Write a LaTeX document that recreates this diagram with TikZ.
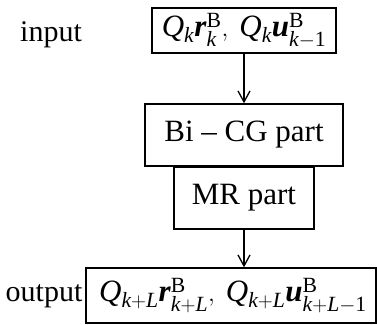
\documentclass[tikz,border=0pt]{standalone}
\usepackage{amsmath}
\usepackage{fontspec}
\setmainfont{Liberation Serif}
\usetikzlibrary{arrows.meta}
\tikzset{
  blk/.style={draw, line width=1.4pt, inner sep=0pt, anchor=center},
  lbl/.style={inner sep=0pt, anchor=center, font=\fontsize{30}{36}\selectfont},
  flow/.style={draw, line width=1.3pt, -{Straight Barb[length=11pt,width=12pt,line width=1.3pt]}},
}
% symbols set in the Times-like text face
\newcommand{\iQ}{\textit{Q}}
\newcommand{\ik}{\textit{k}}
\newcommand{\iL}{\textit{L}}
\newcommand{\vr}{\textbf{\textit{r}}}
\newcommand{\vu}{\textbf{\textit{u}}}
\newcommand{\sB}{\textrm{B}}
\begin{document}
\begin{tikzpicture}[x=1pt,y=1pt,font=\fontsize{31}{37}\selectfont]
  \useasboundingbox (0,0) rectangle (377,324);
  % stages of the cycle
  \node[blk, minimum width=184pt, minimum height=45pt] (in) at (244,293.5)
    {$\iQ_{\ik}\vr_{\ik}^{\sB},\;\iQ_{\ik}\vu_{\ik-\textrm{1}}^{\sB}$};
  \node[blk, minimum width=198pt, minimum height=62pt] (bicg) at (244,189)
    {Bi -- CG part};
  \node[blk, minimum width=140pt, minimum height=62pt] (mr) at (244,126)
    {MR part};
  \node[blk, minimum width=290pt, minimum height=55pt] (out) at (231,28.5)
    {\hspace*{4pt}$\iQ_{\ik+\iL}\vr_{\ik+\iL}^{\sB},\;\iQ_{\ik+\iL}\vu_{\ik+\iL-\textrm{1}}^{\sB}$};
  % side labels
  \node[lbl] (inl) at (51,289) {input};
  \node[lbl] (outl) at (44,28) {output};
  % connectors
  \draw[flow] (in.south -| bicg.north) -- (bicg.north);
  \draw[flow] (mr.south) -- (mr.south |- out.north);
\end{tikzpicture}
\end{document}
